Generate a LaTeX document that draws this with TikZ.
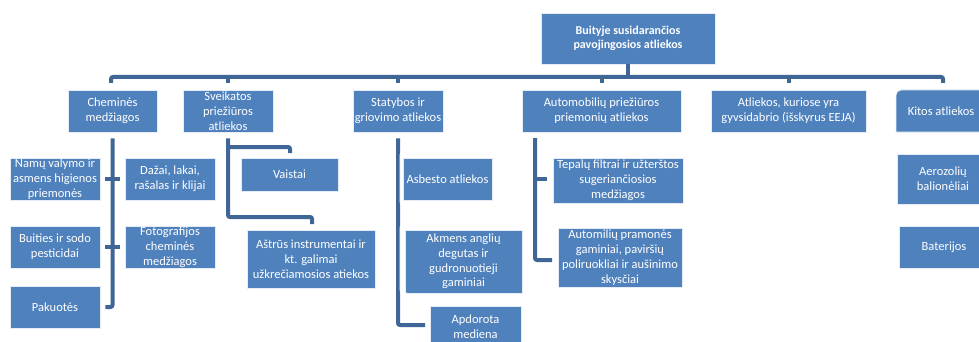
\documentclass[tikz,border=0pt]{standalone}
\usepackage{fontspec}
\setmainfont{Carlito}
\definecolor{boxblue}{RGB}{79,129,189}
\definecolor{lineblue}{RGB}{64,102,152}
\begin{document}
\begin{tikzpicture}[x=1pt,y=-1pt,
  box/.style={fill=boxblue,draw=white!85!boxblue,line width=0.8pt,text=white,
    font=\fontsize{12.5}{14.8}\selectfont,align=center,inner sep=0pt},
  conn/.style={draw=lineblue,line width=4pt,rounded corners=2pt}]
\useasboundingbox (0,0) rectangle (979,342);
% root
\node[box,minimum width=174pt,minimum height=51pt,font=\fontsize{12}{14.5}\selectfont\bfseries] (root) at (628,38.5) {Buityje susidarančios\\pavojingosios atliekos};
% level 2
\node[box,minimum width=89pt,minimum height=42pt] (chem) at (112.5,111) {Cheminės\\medžiagos};
\node[box,minimum width=90pt,minimum height=42pt] (sveik) at (228,111) {Sveikatos\\priežiūros\\atliekos};
\node[box,minimum width=90pt,minimum height=42pt] (stat) at (398,111) {Statybos ir\\griovimo atliekos};
\node[box,minimum width=159pt,minimum height=42pt] (auto) at (601.5,111) {Automobilių priežiūros\\priemonių atliekos};
\node[box,minimum width=155pt,minimum height=42pt] (gyv) at (788.5,111) {Atliekos, kuriose yra\\gyvsidabrio (išskyrus EEJA)};
\fill[boxblue,draw=white!85!boxblue,line width=0.8pt] (896,132) -- (896,95) arc[start angle=180,end angle=270,radius=5] -- (990,90) -- (990,132) -- cycle;
\node[box,fill=none,draw=none,minimum width=90pt,minimum height=42pt] (kitos) at (941,111) {Kitos atliekos};
% level 3
\node[box,minimum width=90pt,minimum height=42pt] (namu) at (55,179) {Namų valymo ir\\asmens higienos\\priemonės};
\node[box,minimum width=90pt,minimum height=42pt] (dazai) at (170,179) {Dažai, lakai,\\rašalas ir klijai};
\node[box,minimum width=90pt,minimum height=42pt] (buit) at (55,247) {Buities ir sodo\\pesticidai};
\node[box,minimum width=90pt,minimum height=42pt] (foto) at (170,247) {Fotografijos\\cheminės\\medžiagos};
\node[box,minimum width=90pt,minimum height=42pt] (pak) at (55,307) {Pakuotės};
\node[box,minimum width=97pt,minimum height=33pt] (vaist) at (289.5,174.5) {Vaistai};
\node[box,minimum width=128pt,minimum height=58pt] (astr) at (311,259) {Aštrūs instrumentai ir\\kt. galimai\\užkrečiamosios atiekos};
\node[box,minimum width=89pt,minimum height=42pt] (asb) at (447.5,179) {Asbesto atliekos};
\node[box,minimum width=117pt,minimum height=63pt] (akm) at (463.5,261.5) {Akmens anglių\\degutas ir\\gudronuotieji\\gaminiai};
\node[box,minimum width=91pt,minimum height=42pt] (apd) at (475.5,327) {Apdorota\\mediena};
\node[box,minimum width=130pt,minimum height=45pt] (tep) at (618,180.5) {Tepalų filtrai ir užterštos\\sugeriančiosios\\medžiagos};
\node[box,minimum width=124pt,minimum height=59pt] (autom) at (620,257.5) {Automilių pramonės\\gaminiai, paviršių\\poliruokliai ir aušinimo\\skysčiai};
\node[box,minimum width=92pt,minimum height=50pt] (aero) at (943,179) {Aerozolių\\balionėliai};
\node[box,minimum width=90pt,minimum height=42pt] (bat) at (944,247) {Baterijos};
% top connectors
\coordinate (barL) at (111,77);
\draw[conn] (root.south) -- (root.south |- barL);
\draw[conn] (111,83) -- (barL) -- (943,77) -- (943,83);
\draw[conn] (sveik.north |- barL) -- ++(0,6);
\draw[conn] (stat.north |- barL) -- ++(0,6);
\draw[conn] (auto.north |- barL) -- ++(0,6);
\draw[conn] (gyv.north |- barL) -- ++(0,6);
% Chemines
\draw[conn] (chem.south) ++(0,6) coordinate (c0) -- (c0 |- pak.east) -- ([xshift=5pt]pak.east);
\draw[conn] ([xshift=5pt]namu.east) -- ([xshift=-5pt]dazai.west);
\draw[conn] ([xshift=5pt]buit.east) -- ([xshift=-5pt]foto.west);
% Sveikatos
\draw[conn] (sveik.south) ++(0,6) coordinate (s0) -- (228,217) -- (312,217) -- (312,224);
\draw[conn] (228,147) -- (290,147) -- (290,153);
% Statybos
\draw[conn] (stat.south) ++(0,6) coordinate (t0) -- (398,325) -- (425,325);
\draw[white,line width=1pt,rounded corners=3pt] (405,152) -- (400,152) -- (400,205) -- (405,205);
\draw[white,line width=1pt,rounded corners=3pt] (407,225) -- (400,225) -- (400,293) -- (407,293);
% Auto
\draw[conn] (535,138) -- (535,260) -- (552,260);
\draw[conn] (535,179) -- (547,179);
\end{tikzpicture}
\end{document}
